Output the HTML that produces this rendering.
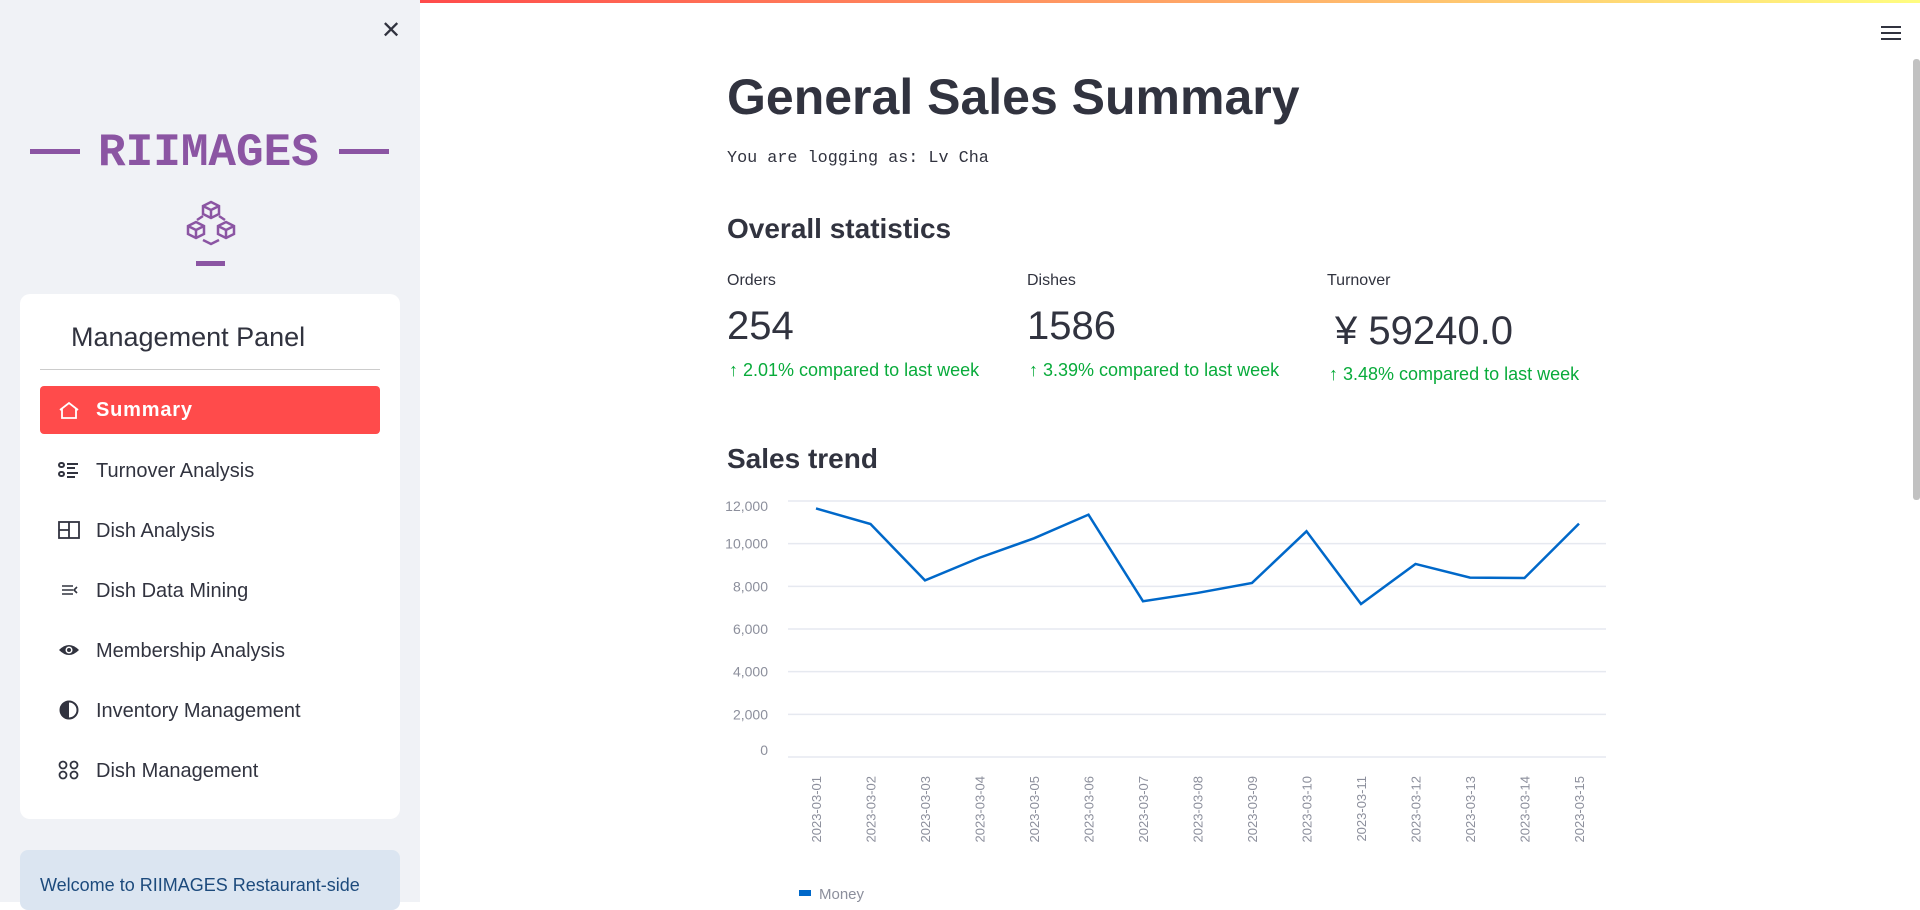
<!DOCTYPE html>
<html><head><meta charset="utf-8">
<style>
*{margin:0;padding:0;box-sizing:border-box}
body{width:1920px;height:902px;overflow:hidden;background:#fff;font-family:"Liberation Sans",sans-serif;position:relative;color:#31333f}
.abs{position:absolute;white-space:nowrap;line-height:1}
#sidebar{position:absolute;left:0;top:0;width:420px;height:902px;background:#f0f2f6}
.nav{position:absolute;left:40px;width:340px;height:48px;font-size:20px;color:#31333f}
.nav span.t{position:absolute;left:56px;top:14px}
.nav .ic{position:absolute;left:18px;top:14px;width:22px;height:20px}
.lbl{font-size:16px;color:#31333f}
.val{font-size:40px;color:#31333f}
.delta{font-size:18px;color:#09ab3b}
</style></head><body>
<div style="position:absolute;left:420px;top:0;width:1500px;height:3px;background:linear-gradient(90deg,#ff4b4b,#fffd80)"></div>
<div id="sidebar">
  <div class="abs" style="left:381px;top:19px;font-size:24px;color:#31333f">✕</div>
  <div style="position:absolute;left:30px;top:149px;width:50px;height:5px;background:#8b55a3"></div>
  <div class="abs" style="left:98px;top:130px;font-family:'Liberation Mono',monospace;font-weight:bold;font-size:46px;color:#8b55a3">RIIMAGES</div>
  <div style="position:absolute;left:339px;top:149px;width:50px;height:5px;background:#8b55a3"></div>
  <svg style="position:absolute;left:185px;top:200px" width="52" height="48" viewBox="0 0 52 48" fill="none" stroke="#8b55a3" stroke-width="2.5">
    <path d="M26 2l8 4v8l-8 4-8-4V6z M18 6l8 4 8-4 M26 10v8"/>
    <path d="M11 22l8 4v8l-8 4-8-4v-8z M3 26l8 4 8-4 M11 30v8"/>
    <path d="M41 22l8 4v8l-8 4-8-4v-8z M33 26l8 4 8-4 M41 30v8"/>
    <path d="M12 20l6-4 M40 20l-6-4 M18 40l8 4 8-4"/>
  </svg>
  <div style="position:absolute;left:196px;top:261px;width:29px;height:5px;background:#8b55a3"></div>
  <div style="position:absolute;left:20px;top:294px;width:380px;height:525px;background:#fff;border-radius:10px">
    <div class="abs" style="left:51px;top:30px;font-size:27px;color:#31333f">Management Panel</div>
    <div style="position:absolute;left:20px;top:75px;width:340px;height:1px;background:#ccc"></div>
  </div>
  <div class="nav" style="top:386px;background:#ff4b4b;border-radius:4px;color:#fff"><svg class="ic" viewBox="0 0 22 20" fill="none" stroke="#fff" stroke-width="1.8"><path d="M2 10L11 3l9 7M4 9v9h14V9"/></svg><span class="t" style="font-weight:bold;top:13px;letter-spacing:0.8px">Summary</span></div>
  <div class="nav" style="top:446px"><svg class="ic" viewBox="0 0 22 20" fill="none" stroke="#31333f" stroke-width="2"><rect x="1" y="3" width="5" height="4" rx="2"/><rect x="1" y="12" width="5" height="4" rx="2"/><path d="M9 4h11M9 8h8M9 13h11M9 17h8"/></svg><span class="t">Turnover Analysis</span></div>
  <div class="nav" style="top:506px"><svg class="ic" viewBox="0 0 22 20" fill="none" stroke="#31333f" stroke-width="1.8"><rect x="1" y="2" width="20" height="16"/><path d="M11 2v16M1 10h10"/></svg><span class="t">Dish Analysis</span></div>
  <div class="nav" style="top:566px"><svg class="ic" viewBox="0 0 22 20" fill="none" stroke="#31333f" stroke-width="1.6"><path d="M4 6h11M4 10h11M4 14h11M19 7l-3 3 3 3"/></svg><span class="t">Dish Data Mining</span></div>
  <div class="nav" style="top:626px"><svg class="ic" viewBox="0 0 22 20"><path d="M1 10Q11 0 21 10Q11 20 1 10z" fill="#31333f"/><circle cx="11" cy="10" r="3.5" fill="#fff"/><circle cx="11" cy="10" r="2" fill="#31333f"/></svg><span class="t">Membership Analysis</span></div>
  <div class="nav" style="top:686px"><svg class="ic" viewBox="0 0 22 20"><circle cx="11" cy="10" r="8.5" fill="none" stroke="#31333f" stroke-width="2"/><path d="M11 1.5A8.5 8.5 0 0 0 11 18.5z" fill="#31333f"/></svg><span class="t">Inventory Management</span></div>
  <div class="nav" style="top:746px"><svg class="ic" viewBox="0 0 22 20" fill="none" stroke="#31333f" stroke-width="1.8"><circle cx="5" cy="5" r="3.5"/><circle cx="16" cy="5" r="3.5"/><circle cx="5" cy="15" r="3.5"/><circle cx="16" cy="15" r="3.5"/></svg><span class="t">Dish Management</span></div>
  <div style="position:absolute;left:20px;top:850px;width:380px;height:60px;background:#dbe5f1;border-radius:8px">
    <div class="abs" style="left:20px;top:26px;font-size:18px;color:#1c4a7c">Welcome to RIIMAGES Restaurant-side</div>
  </div>
</div>
<svg style="position:absolute;left:1880px;top:24px" width="22" height="18"><path d="M1 3h20M1 9h20M1 15h20" stroke="#31333f" stroke-width="2"/></svg>
<div style="position:absolute;left:1913px;top:59px;width:7px;height:441px;background:#c1c1c1;border-radius:3px"></div>

<div class="abs" style="left:727px;top:72px;font-size:50px;font-weight:bold">General Sales Summary</div>
<div class="abs" style="left:727px;top:151px;font-family:'Liberation Mono',monospace;font-size:16.8px">You are logging as: Lv Cha</div>
<div class="abs" style="left:727px;top:215px;font-size:28px;font-weight:bold">Overall statistics</div>

<div class="abs lbl" style="left:727px;top:273px">Orders</div>
<div class="abs val" style="left:727px;top:306px">254</div>
<div class="abs delta" style="left:729px;top:361px">↑ 2.01% compared to last week</div>
<div class="abs lbl" style="left:1027px;top:273px">Dishes</div>
<div class="abs val" style="left:1027px;top:306px">1586</div>
<div class="abs delta" style="left:1029px;top:361px">↑ 3.39% compared to last week</div>
<div class="abs lbl" style="left:1327px;top:273px">Turnover</div>
<div class="abs val" style="left:1335px;top:311px">¥ 59240.0</div>
<div class="abs delta" style="left:1329px;top:365px">↑ 3.48% compared to last week</div>

<div class="abs" style="left:727px;top:445px;font-size:28px;font-weight:bold">Sales trend</div>

<svg id="chart" style="position:absolute;left:0;top:0" width="1920" height="902"></svg>
<script>
const dates=["2023-03-01","2023-03-02","2023-03-03","2023-03-04","2023-03-05","2023-03-06","2023-03-07","2023-03-08","2023-03-09","2023-03-10","2023-03-11","2023-03-12","2023-03-13","2023-03-14","2023-03-15"];
const money=[11650,10920,8280,9340,10250,11360,7300,7690,8160,10580,7170,9050,8410,8390,10940];
const yTicks=[0,2000,4000,6000,8000,10000,12000];
const yTickLabels=["0","2,000","4,000","6,000","8,000","10,000","12,000"];
const NS="http://www.w3.org/2000/svg";
const svg=document.getElementById('chart');
const x0=788,x1=1606,yTop=501,yBot=757,yMax=12000;
const xs=i=>816+i*(1579-816)/(dates.length-1);
const ys=v=>yBot-(v/yMax)*(yBot-yTop);
function mk(t,a){const e=document.createElementNS(NS,t);for(const k in a)e.setAttribute(k,a[k]);svg.appendChild(e);return e;}
yTicks.forEach((v,i)=>{
  const l=mk('line',{x1:x0,x2:x1,y1:ys(v),y2:ys(v),stroke:'#e6e9f0','stroke-width':1.5});
  
  
  let dy=5; if(i===yTicks.length-1)dy=10; if(i===0)dy=-2;
  const t=mk('text',{x:768,y:ys(v)+dy,'text-anchor':'end','font-size':14,fill:'#8c8f9c','font-family':'Liberation Sans, sans-serif'});
  t.textContent=yTickLabels[i];
  
  
});
dates.forEach((d,i)=>{
  const t=mk('text',{transform:`translate(${xs(i)+5},${776}) rotate(-90)`,'text-anchor':'end','font-size':13,fill:'#8c8f9c','font-family':'Liberation Sans, sans-serif'});
  t.textContent=d;
  
  
});
const p=mk('polyline',{points:money.map((v,i)=>xs(i)+','+ys(v)).join(' '),fill:'none',stroke:'#0068c9','stroke-width':2.5,'stroke-linejoin':'miter'});


const lr=mk('rect',{x:799,y:890,width:12,height:6,fill:'#0068c9'});


const lt=mk('text',{x:819,y:899,'font-size':15,fill:'#8c8f9c','font-family':'Liberation Sans, sans-serif'});
lt.textContent='Money';


</script>
</body></html>
